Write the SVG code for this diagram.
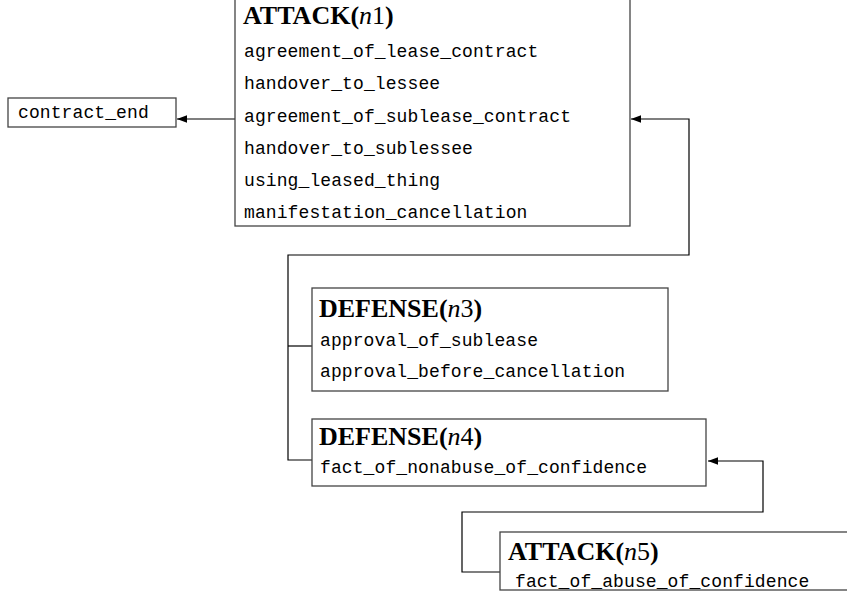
<svg xmlns="http://www.w3.org/2000/svg" width="847" height="603" viewBox="0 0 847 603">
<defs>
<style>
.box{fill:#fff;stroke:#444;stroke-width:1.3}
.tt{font-family:"Liberation Mono",monospace;font-size:18px;letter-spacing:0.1px;fill:#000}
.hd{font-family:"Liberation Serif",serif;font-size:26px;font-weight:bold;fill:#000}
.it{font-style:italic;font-weight:normal}
.rm{font-weight:normal}
.cn{fill:none;stroke:#000;stroke-width:1.2}
</style>
<marker id="ah" markerUnits="userSpaceOnUse" markerWidth="12" markerHeight="10" refX="10" refY="5" orient="auto">
<path d="M0,1.3 L10,5 L0,8.7 Z" fill="#000"/>
</marker>
</defs>
<g id="connectors">
<path class="cn" d="M235,119 H177" marker-end="url(#ah)"/>
<path class="cn" d="M312,346 H288"/>
<path class="cn" d="M312,460 H288 V255 H689 V119 H631" marker-end="url(#ah)"/>
<path class="cn" d="M500,572 H462 V512 H763 V461 H708" marker-end="url(#ah)"/>
</g>
<g id="contract_end">
<rect class="box" x="8" y="98" width="168" height="29"/>
<text class="tt" x="18" y="118">contract_end</text>
</g>
<g id="n1">
<rect class="box" x="235" y="-5" width="395" height="231"/>
<text class="hd" x="243" y="24">ATTACK(<tspan class="it">n</tspan><tspan class="rm">1</tspan>)</text>
<text class="tt" x="244" y="57">agreement_of_lease_contract</text>
<text class="tt" x="244" y="89">handover_to_lessee</text>
<text class="tt" x="244" y="122">agreement_of_sublease_contract</text>
<text class="tt" x="244" y="154">handover_to_sublessee</text>
<text class="tt" x="244" y="186">using_leased_thing</text>
<text class="tt" x="244" y="218">manifestation_cancellation</text>
</g>
<g id="n3">
<rect class="box" x="312" y="288" width="356" height="103"/>
<text class="hd" x="319" y="317">DEFENSE(<tspan class="it">n</tspan><tspan class="rm">3</tspan>)</text>
<text class="tt" x="320" y="346">approval_of_sublease</text>
<text class="tt" x="320" y="377">approval_before_cancellation</text>
</g>
<g id="n4">
<rect class="box" x="312" y="419" width="394" height="67"/>
<text class="hd" x="319" y="445">DEFENSE(<tspan class="it">n</tspan><tspan class="rm">4</tspan>)</text>
<text class="tt" x="320" y="473">fact_of_nonabuse_of_confidence</text>
</g>
<g id="n5">
<rect class="box" x="500" y="532" width="360" height="58"/>
<text class="hd" x="508" y="560">ATTACK(<tspan class="it">n</tspan><tspan class="rm">5</tspan>)</text>
<text class="tt" x="515" y="587">fact_of_abuse_of_confidence</text>
</g>
</svg>
